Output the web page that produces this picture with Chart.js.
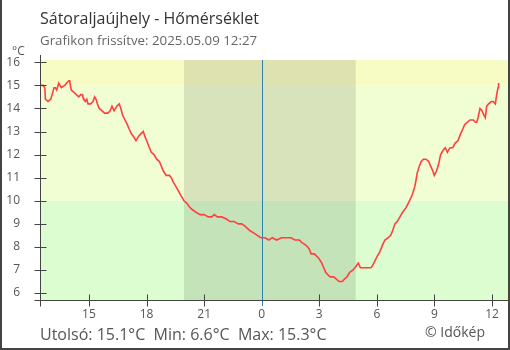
<!DOCTYPE html>
<html>
<head>
<meta charset="utf-8">
<script src="https://cdn.jsdelivr.net/npm/chart.js@4/dist/chart.umd.min.js"></script>
<style>
  html, body { margin: 0; padding: 0; background: #fff; }
  canvas { display: block; }
</style>
</head>
<body>
<canvas id="tempChart" width="510" height="350"></canvas>
<script>
// time in hours from midnight (negative = previous day), temperature in °C
var hours = [
  -11.51, -11.39, -11.30, -11.27, -11.13, -10.99, -10.92, -10.82, -10.75, -10.68,
  -10.57, -10.51, -10.44, -10.26, -10.16, -10.05, -10.00, -9.97, -9.92, -9.78,
  -9.66, -9.53, -9.43, -9.36, -9.32, -9.26, -9.19, -9.11, -9.05, -8.91,
  -8.79, -8.70, -8.63, -8.56, -8.46, -8.32, -8.18, -8.01, -7.90, -7.80,
  -7.69, -7.55, -7.42, -7.34, -7.24, -7.12, -7.00, -6.90, -6.79, -6.69,
  -6.55, -6.41, -6.30, -6.17, -6.09, -5.99, -5.85, -5.75, -5.61, -5.47,
  -5.33, -5.23, -5.13, -4.98, -4.81, -4.71, -4.60, -4.46, -4.32, -4.19,
  -4.05, -3.91, -3.73, -3.59, -3.42, -3.21, -3.01, -2.78, -2.60, -2.47,
  -2.31, -2.08, -1.82, -1.65, -1.44, -1.22, -1.04, -0.87, -0.61, -0.40,
  -0.23, -0.05, 0.17, 0.38, 0.55, 0.78, 1.04, 1.21, 1.53, 1.73,
  1.96, 2.08, 2.26, 2.40, 2.48, 2.57, 2.74, 2.86, 2.98, 3.13,
  3.23, 3.33, 3.44, 3.57, 3.75, 3.89, 4.03, 4.20, 4.30, 4.44,
  4.58, 4.76, 4.86, 5.03, 5.14, 5.31, 5.47, 5.69, 5.78, 5.90,
  6.02, 6.16, 6.30, 6.42, 6.59, 6.72, 6.82, 6.94, 7.06, 7.20,
  7.34, 7.52, 7.64, 7.76, 7.86, 7.97, 8.04, 8.10, 8.21, 8.31,
  8.42, 8.56, 8.70, 8.80, 8.91, 8.99, 9.11, 9.22, 9.32, 9.46,
  9.56, 9.67, 9.81, 9.95, 10.08, 10.22, 10.36, 10.47, 10.57, 10.71,
  10.85, 11.02, 11.13, 11.20, 11.27, 11.37, 11.47, 11.58, 11.65, 11.72,
  11.82, 11.96, 12.06, 12.17, 12.24, 12.31, 12.34
];
var temps = [
  15.0, 15.0, 14.9, 14.4, 14.3, 14.4, 14.6, 14.9, 14.9, 14.8,
  15.1, 15.0, 14.9, 15.0, 15.1, 15.2, 15.2, 15.0, 14.8, 14.7,
  14.6, 14.5, 14.6, 14.6, 14.5, 14.4, 14.3, 14.4, 14.2, 14.2,
  14.3, 14.5, 14.4, 14.2, 14.0, 13.9, 13.8, 13.8, 13.9, 14.1,
  13.9, 14.1, 14.2, 14.0, 13.7, 13.5, 13.3, 13.1, 12.9, 12.8,
  12.6, 12.8, 12.9, 13.0, 12.8, 12.6, 12.3, 12.1, 12.0, 11.8,
  11.7, 11.5, 11.3, 11.1, 11.1, 11.0, 10.8, 10.6, 10.4, 10.2,
  10.0, 9.9, 9.7, 9.6, 9.5, 9.4, 9.4, 9.3, 9.3, 9.4,
  9.3, 9.3, 9.2, 9.1, 9.1, 9.0, 9.0, 8.9, 8.7, 8.6,
  8.5, 8.4, 8.4, 8.3, 8.4, 8.3, 8.4, 8.4, 8.4, 8.3,
  8.3, 8.2, 8.1, 8.0, 7.9, 7.7, 7.7, 7.6, 7.5, 7.3,
  7.1, 6.9, 6.8, 6.7, 6.7, 6.6, 6.5, 6.5, 6.6, 6.7,
  6.9, 7.0, 7.1, 7.3, 7.1, 7.1, 7.1, 7.1, 7.2, 7.4,
  7.6, 7.8, 8.1, 8.3, 8.4, 8.5, 8.7, 9.0, 9.1, 9.3,
  9.5, 9.7, 9.9, 10.1, 10.3, 10.6, 10.9, 11.2, 11.5, 11.7,
  11.8, 11.8, 11.7, 11.5, 11.3, 11.1, 11.3, 11.6, 12.0, 12.2,
  12.3, 12.1, 12.3, 12.3, 12.5, 12.6, 12.9, 13.1, 13.3, 13.4,
  13.5, 13.5, 13.4, 13.4, 13.6, 14.0, 13.9, 13.7, 13.6, 14.1,
  14.2, 14.3, 14.3, 14.2, 14.6, 14.9, 15.1
];
var xTicks = [-9, -6, -3, 0, 3, 6, 9, 12];
var yTicks = [6, 7, 8, 9, 10, 11, 12, 13, 14, 15, 16];
var bandLimits = [10, 15];
var sunset = -4.05, sunrise = 4.9;

var titleText = 'Sátoraljaújhely - Hőmérséklet';
var subtitleText = 'Grafikon frissítve: 2025.05.09 12:27';
var unitText = '°C';
var summaryText = 'Utolsó: 15.1°C  Min: 6.6°C  Max: 15.3°C';
var creditText = '© Időkép';

var font = "'Open Sans', sans-serif";

var points = hours.map(function (h, i) { return { x: h, y: temps[i] }; });

var decorPlugin = {
  id: 'decor',
  beforeDatasetsDraw: function (chart) {
    var ctx = chart.ctx, a = chart.chartArea;
    var xs = chart.scales.x, ys = chart.scales.y;
    var y10 = ys.getPixelForValue(bandLimits[0]);
    var y15 = ys.getPixelForValue(bandLimits[1]);
    var w = a.right - a.left;
    ctx.save();
    ctx.fillStyle = '#dcfdcf';
    ctx.fillRect(a.left, y10, w, a.bottom - y10);
    ctx.fillStyle = '#f1fdd2';
    ctx.fillRect(a.left, y15, w, y10 - y15);
    ctx.fillStyle = '#f7fcc4';
    ctx.fillRect(a.left, a.top, w, y15 - a.top);

    // night
    var n1 = xs.getPixelForValue(sunset), n2 = xs.getPixelForValue(sunrise);
    ctx.fillStyle = 'rgba(0,0,0,0.1)';
    ctx.fillRect(n1, a.top, n2 - n1, a.bottom - a.top);

    // midnight
    var xm = Math.round(xs.getPixelForValue(0)) + 0.5;
    ctx.strokeStyle = '#2f80b0';
    ctx.lineWidth = 1;
    ctx.beginPath();
    ctx.moveTo(xm, a.top);
    ctx.lineTo(xm, a.bottom + 6);
    ctx.stroke();
    ctx.restore();
  },
  afterDraw: function (chart) {
    var ctx = chart.ctx, a = chart.chartArea;
    var xs = chart.scales.x, ys = chart.scales.y;
    ctx.save();
    ctx.strokeStyle = '#444';
    ctx.lineWidth = 1;
    var ax = Math.round(a.left) + 0.5, ay = Math.round(a.bottom) + 0.5;
    ctx.beginPath();
    ctx.moveTo(ax, a.top - 5);
    ctx.lineTo(ax, ay + 6);
    ctx.moveTo(ax - 6, ay);
    ctx.lineTo(a.right, ay);
    yTicks.forEach(function (v) {
      var py = Math.round(ys.getPixelForValue(v)) + 0.5;
      ctx.moveTo(ax - 6, py);
      ctx.lineTo(ax + 6, py);
    });
    xTicks.forEach(function (v) {
      if (v === 0) return;
      var px = Math.round(xs.getPixelForValue(v)) + 0.5;
      ctx.moveTo(px, ay - 6);
      ctx.lineTo(px, ay + 6);
    });
    ctx.stroke();

    // frame
    ctx.fillStyle = '#444';
    ctx.fillRect(0, 0, 2, 350);
    ctx.fillRect(508, 0, 2, 350);
    ctx.fillRect(0, 348, 510, 2);

    // texts
    ctx.textBaseline = 'alphabetic';
    ctx.textAlign = 'left';
    ctx.fillStyle = '#333';
    ctx.font = '16px ' + font;
    ctx.fillText(titleText, 40, 24);
    ctx.fillStyle = '#666';
    ctx.font = '13.3px ' + font;
    ctx.fillText(subtitleText, 40, 45);
    ctx.fillStyle = '#555';
    ctx.font = '12px ' + font;
    ctx.fillText(unitText, 12, 55);
    ctx.fillStyle = '#555';
    ctx.font = '16px ' + font;
    ctx.fillText(summaryText, 40, 340);
    ctx.font = '14px ' + font;
    ctx.fillText(creditText, 425, 337);
    ctx.restore();
  }
};

var ctx = document.getElementById('tempChart');
var tempChart = new Chart(ctx, {
  type: 'line',
  data: {
    datasets: [{
      data: points,
      borderColor: '#ff4040',
      borderWidth: 1.6,
      pointRadius: 0,
      tension: 0,
      fill: false
    }]
  },
  options: {
    responsive: false,
    animation: false,
    devicePixelRatio: 1,
    layout: { padding: { top: 60, right: 2, bottom: 0, left: 0 } },
    plugins: {
      legend: { display: false },
      tooltip: { enabled: false }
    },
    scales: {
      x: {
        type: 'linear',
        min: -11.55,
        max: 12.83,
        grid: { display: false, drawTicks: false },
        border: { display: false },
        afterBuildTicks: function (s) {
          s.ticks = xTicks.map(function (v) { return { value: v }; });
        },
        afterFit: function (s) { s.height = 50; },
        ticks: {
          autoSkip: false,
          maxRotation: 0,
          padding: 7,
          color: '#555',
          font: { family: font, size: 12 },
          callback: function (v) { return String((v + 24) % 24); }
        }
      },
      y: {
        min: 5.7,
        max: 16.1,
        grid: { display: false, drawTicks: false },
        border: { display: false },
        afterBuildTicks: function (s) {
          s.ticks = yTicks.map(function (v) { return { value: v }; });
        },
        afterFit: function (s) { s.width = 40; },
        ticks: {
          autoSkip: false,
          padding: 20,
          color: '#555',
          font: { family: font, size: 12 }
        }
      }
    }
  },
  plugins: [decorPlugin]
});
</script>
</body>
</html>
